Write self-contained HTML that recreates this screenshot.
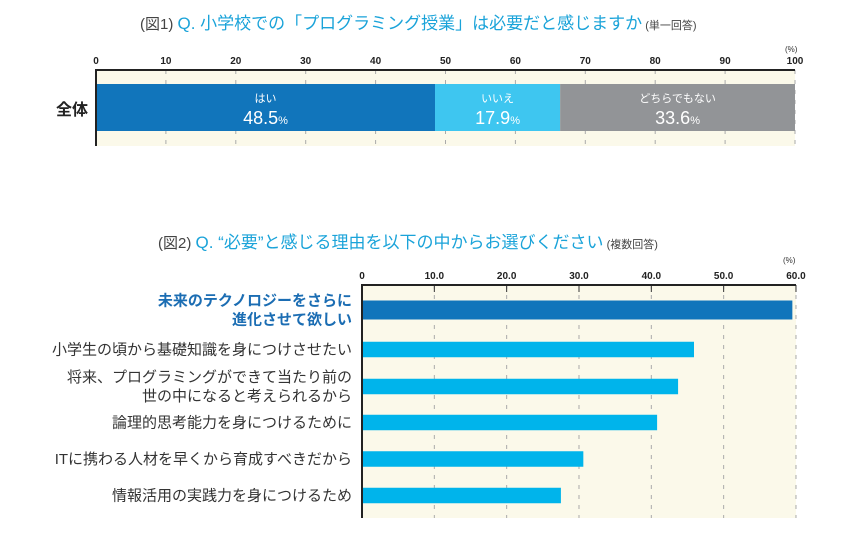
<!DOCTYPE html>
<html><head><meta charset="utf-8"><style>
html,body{margin:0;padding:0;background:#fff;}
svg text{font-family:"Liberation Sans","Noto Sans CJK JP",sans-serif;}
</style></head><body>
<svg id="c" width="863" height="541" xmlns="http://www.w3.org/2000/svg">
<text x="140" y="29" font-size="15" fill="#444">(図1) <tspan fill="#1aa3d9" font-size="17">Q. 小学校での「プログラミング授業」は必要だと感じますか</tspan><tspan font-size="11"> (単一回答)</tspan></text>
<text x="158" y="248" font-size="15" fill="#444">(図2) <tspan fill="#1aa3d9" font-size="17">Q. “必要”と感じる理由を以下の中からお選びください</tspan><tspan font-size="11"> (複数回答)</tspan></text>
<text x="785" y="52" font-size="8" fill="#333">(%)</text>
<text x="783" y="263" font-size="8" fill="#333">(%)</text>
<text x="88" y="115" font-size="16" font-weight="bold" fill="#222" text-anchor="end">全体</text>
<g id="g1"></g><g id="g2"></g>
</svg>
<script>
const cat1 = ['はい','いいえ','どちらでもない'];
const val1 = [48.5,17.9,33.6];
const ticks1 = [0,10,20,30,40,50,60,70,80,90,100];
const cat2 = ['未来のテクノロジーをさらに|進化させて欲しい','小学生の頃から基礎知識を身につけさせたい','将来、プログラミングができて当たり前の|世の中になると考えられるから','論理的思考能力を身につけるために','ITに携わる人材を早くから育成すべきだから','情報活用の実践力を身につけるため'];
const val2 = [59.5,45.9,43.7,40.8,30.6,27.5];
const ticks2 = ['0','10.0','20.0','30.0','40.0','50.0','60.0'];
const NS='http://www.w3.org/2000/svg';
function mk(p,t,a){const e=document.createElementNS(NS,t);for(const k in a)e.setAttribute(k,a[k]);p.appendChild(e);return e;}
// chart 1
const g1=document.getElementById('g1');
const x1=v=>96+v*6.99;
const bg1=mk(g1,'rect',{x:96,y:70,width:699,height:76,fill:'#fbf9ea'});


ticks1.forEach(t=>{
  const l=mk(g1,'line',{x1:x1(t),x2:x1(t),y1:70,y2:146,stroke:'#aaa','stroke-dasharray':'4,6'});
  
  
  const tx=mk(g1,'text',{x:x1(t),y:64,'font-size':10,'font-weight':'bold','text-anchor':'middle',fill:'#222'});
  tx.textContent=t;
  
  
});
const cols1=['#1175bb','#3ec6f0','#929497'];
let acc=0;
val1.forEach((v,i)=>{
  const r=mk(g1,'rect',{x:x1(acc),y:84,width:x1(acc+v)-x1(acc),height:47,fill:cols1[i]});
  
  
  const cx=(x1(acc)+x1(acc+v))/2;
  const a=mk(g1,'text',{x:cx,y:102,'font-size':11,'text-anchor':'middle',fill:'#fff'});a.textContent=cat1[i];
  
  
  const b=mk(g1,'text',{x:cx,y:124,'font-size':18,'text-anchor':'middle',fill:'#fff'});
  b.innerHTML=v.toFixed(1)+'<tspan font-size="11">%</tspan>';
  
  
  acc+=v;
});
const ax1=mk(g1,'path',{d:'M96,146 V70 H795',stroke:'#222','stroke-width':2,fill:'none'});


// chart 2
const g2=document.getElementById('g2');
const x2=v=>362+v*7.233;
const bg2=mk(g2,'rect',{x:362,y:285,width:434,height:233,fill:'#fbf9ea'});


ticks2.forEach(t=>{
  const v=parseFloat(t);
  const l=mk(g2,'line',{x1:x2(v),x2:x2(v),y1:285,y2:518,stroke:'#aaa','stroke-dasharray':'4,6'});
  
  
  const tk=mk(g2,'line',{x1:x2(v),x2:x2(v),y1:285,y2:292,stroke:'#333'});
  
  
  const tx=mk(g2,'text',{x:x2(v),y:279,'font-size':10,'font-weight':'bold','text-anchor':'middle',fill:'#222'});
  tx.textContent=t;
  
  
});
const cy=[310,349.5,386.5,422.5,459,495.5];
val2.forEach((v,i)=>{
  const h=i==0?19:15.5;
  const r=mk(g2,'rect',{x:362,y:cy[i]-h/2,width:x2(v)-362,height:h,fill:i==0?'#1175bb':'#00b4eb'});
  
  
  const lines=cat2[i].split('|');
  lines.forEach((s,j)=>{
    const yy=cy[i]+5+(j-(lines.length-1)/2)*19;
    const t=mk(g2,'text',{x:352,y:yy,'font-size':15,'text-anchor':'end',fill:i==0?'#1b6db3':'#333','font-weight':i==0?'bold':'normal'});
    t.textContent=s;
    
    
  });
});
const ax2=mk(g2,'path',{d:'M362,518 V285 H796',stroke:'#222','stroke-width':2,fill:'none'});


</script>
</body></html>
